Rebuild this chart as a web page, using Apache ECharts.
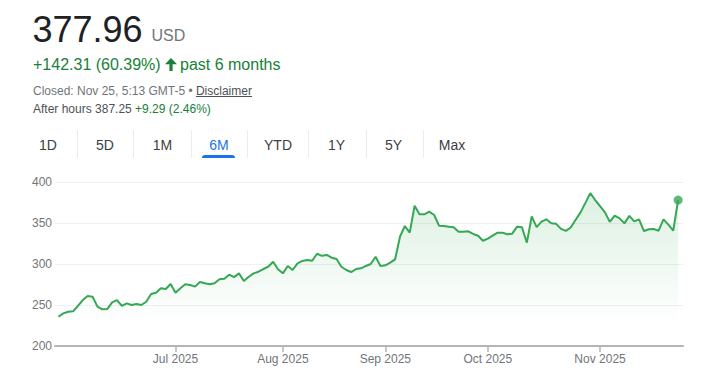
<!DOCTYPE html>
<html>
<head>
<meta charset="utf-8">
<script src="https://cdn.jsdelivr.net/npm/echarts@6/dist/echarts.min.js"></script>
<style>
  html, body { margin: 0; padding: 0; background: #fff; }
  body { width: 724px; height: 376px; position: relative; overflow: hidden;
         font-family: Arial, "Liberation Sans", sans-serif; }
  #chart { position: absolute; left: 0; top: 0; width: 724px; height: 376px; }
  .t { position: absolute; white-space: nowrap; line-height: 1; }
  .tab { position: absolute; top: 137.5px; width: 50px; text-align: center; font-size: 14px;
         line-height: 1; color: #3c4043; }
  .sep { position: absolute; top: 130px; width: 1px; height: 28px; background: #ebebeb; }
</style>
</head>
<body>
<div id="chart"></div>

<div class="t" style="left:32.5px;top:11.5px;font-size:36px;color:#202124;">377.96</div>
<div class="t" style="left:151.5px;top:27.5px;font-size:16px;color:#70757a;">USD</div>

<div class="t" style="left:33px;top:56.5px;font-size:16px;color:#188038;">+142.31 (60.39%)</div>
<svg style="position:absolute;left:165px;top:58px;" width="12" height="13" viewBox="0 0 12 13">
  <polygon fill="#188038" points="6,0 12,6.2 7.6,6.2 7.6,13 4.4,13 4.4,6.2 0,6.2"/>
</svg>
<div class="t" style="left:180px;top:56.5px;font-size:16px;color:#188038;">past 6 months</div>

<div class="t" style="left:33px;top:84.8px;font-size:12px;color:#70757a;">Closed: Nov 25, 5:13 GMT-5 • <span style="color:#4d5156;text-decoration:underline;">Disclaimer</span></div>
<div class="t" style="left:33px;top:102.5px;font-size:12px;color:#4d5156;">After hours 387.25 <span style="color:#188038;">+9.29 (2.46%)</span></div>

<div class="tab" style="left:23px;">1D</div>
<div class="tab" style="left:80px;">5D</div>
<div class="tab" style="left:137.5px;">1M</div>
<div class="tab" style="left:194px;color:#1a73e8;">6M</div>
<div class="tab" style="left:253px;">YTD</div>
<div class="tab" style="left:311.5px;">1Y</div>
<div class="tab" style="left:368.5px;">5Y</div>
<div class="tab" style="left:427px;">Max</div>
<div class="sep" style="left:77px;"></div>
<div class="sep" style="left:133px;"></div>
<div class="sep" style="left:191px;"></div>
<div class="sep" style="left:247px;"></div>
<div class="sep" style="left:308px;"></div>
<div class="sep" style="left:366px;"></div>
<div class="sep" style="left:423px;"></div>
<div style="position:absolute;left:202px;top:155px;width:33px;height:3px;background:#1a73e8;border-radius:3px 3px 0 0;"></div>

<script>
// Trading days (categories)
const dates = [
  "2025-05-27","2025-05-28","2025-05-29","2025-05-30",
  "2025-06-02","2025-06-03","2025-06-04","2025-06-05","2025-06-06","2025-06-09","2025-06-10","2025-06-11","2025-06-12","2025-06-13",
  "2025-06-16","2025-06-17","2025-06-18","2025-06-20","2025-06-23","2025-06-24","2025-06-25","2025-06-26","2025-06-27","2025-06-30",
  "2025-07-01","2025-07-02","2025-07-03","2025-07-07","2025-07-08","2025-07-09","2025-07-10","2025-07-11","2025-07-14","2025-07-15",
  "2025-07-16","2025-07-17","2025-07-18","2025-07-21","2025-07-22","2025-07-23","2025-07-24","2025-07-25","2025-07-28","2025-07-29",
  "2025-07-30","2025-07-31",
  "2025-08-01","2025-08-04","2025-08-05","2025-08-06","2025-08-07","2025-08-08","2025-08-11","2025-08-12","2025-08-13","2025-08-14",
  "2025-08-15","2025-08-18","2025-08-19","2025-08-20","2025-08-21","2025-08-22","2025-08-25","2025-08-26","2025-08-27","2025-08-28",
  "2025-08-29",
  "2025-09-02","2025-09-03","2025-09-04","2025-09-05","2025-09-08","2025-09-09","2025-09-10","2025-09-11","2025-09-12","2025-09-15",
  "2025-09-16","2025-09-17","2025-09-18","2025-09-19","2025-09-22","2025-09-23","2025-09-24","2025-09-25","2025-09-26","2025-09-29",
  "2025-09-30",
  "2025-10-01","2025-10-02","2025-10-03","2025-10-06","2025-10-07","2025-10-08","2025-10-09","2025-10-10","2025-10-13","2025-10-14",
  "2025-10-15","2025-10-16","2025-10-17","2025-10-20","2025-10-21","2025-10-22","2025-10-23","2025-10-24","2025-10-27","2025-10-28",
  "2025-10-29","2025-10-30","2025-10-31",
  "2025-11-03","2025-11-04","2025-11-05","2025-11-06","2025-11-07","2025-11-10","2025-11-11","2025-11-12","2025-11-13","2025-11-14",
  "2025-11-17","2025-11-18","2025-11-19","2025-11-20","2025-11-21","2025-11-24","2025-11-25"
];

// Closing prices (USD)
const prices = [
  235.65, 239.8, 241.8, 242.3, 248.8, 256, 261, 260, 248, 244.7,
  245, 253.3, 256, 248.8, 252, 250, 251.2, 250, 254, 263.4,
  265, 270.4, 269.5, 275.6, 265, 270.4, 275.2, 274.4, 272.4, 278,
  276.5, 275.2, 276.5, 281.3, 282, 287, 284, 288.6, 279.3, 284.5,
  288.6, 290.6, 293.9, 296.7, 302.8, 293.5, 288.6, 297.6, 292.7, 300.8,
  303.7, 304.9, 304, 312.5, 310, 311, 307.7, 306, 296.7, 292.7,
  290.2, 293.9, 294.7, 297.6, 300, 308.9, 297.6, 298.4, 301.6, 305.7,
  333.3, 346.3, 338.2, 371, 360.6, 360.6, 363.8, 359.8, 346.7, 346.3,
  345.5, 344.7, 339.4, 339.4, 339.8, 336.6, 334.5, 328.4, 330.9, 334.5,
  338.2, 338.2, 336.2, 337, 345.5, 344.7, 326, 358, 345, 351.6,
  354.5, 349.8, 349, 342.8, 340.4, 344.5, 354, 363, 374.5, 386.5,
  378, 370.5, 363, 351.5, 358.9, 355.7, 349.6, 358.7, 352, 354.5,
  340.2, 342.3, 342.7, 340.6, 354.5, 348, 340.6, 377.96
];

// Y-axis ticks
const yTicks = [200, 250, 300, 350, 400];
const monthNames = ["Jan","Feb","Mar","Apr","May","Jun","Jul","Aug","Sep","Oct","Nov","Dec"];

// indices of the first trading day in each labelled month (Jul..Nov)
const monthStarts = [];
for (let i = 1; i < dates.length; i++) {
  if (dates[i].slice(5, 7) !== dates[i - 1].slice(5, 7) && dates[i].slice(5,7) !== "06") monthStarts.push(i);
}

const lineData = prices.map((p, i) => [i, p]);
const last = lineData[lineData.length - 1];

const FONT = 'Arial, "Liberation Sans", sans-serif';
const green = '#34a853';

const chart = echarts.init(document.getElementById('chart'), null, { renderer: 'svg' });
chart.setOption({
  animation: false,
  grid: { left: 55, right: 41, top: 182, bottom: 30, containLabel: false },
  xAxis: {
    type: 'value',
    min: -0.7,
    max: 128,
    splitLine: { show: false },
    axisLine: { show: true, lineStyle: { color: '#b5b5b5', width: 2 } },
    axisTick: { show: true, customValues: monthStarts, length: 6, lineStyle: { color: '#b5b5b5', width: 1.5 } },
    axisLabel: {
      customValues: monthStarts,
      color: '#70757a', fontSize: 12, fontFamily: FONT, margin: 7,
      formatter: (v) => {
        const d = dates[Math.round(v)];
        return monthNames[parseInt(d.slice(5, 7), 10) - 1] + ' ' + d.slice(0, 4);
      }
    }
  },
  yAxis: {
    type: 'value',
    min: yTicks[0],
    max: yTicks[yTicks.length - 1],
    interval: 50,
    axisLine: { show: false },
    axisTick: { show: false },
    axisLabel: { color: '#70757a', fontSize: 12, fontFamily: FONT, margin: 3 },
    splitLine: { lineStyle: { color: '#f0f0f0', width: 1 } }
  },
  series: [
    {
      type: 'line',
      data: lineData,
      showSymbol: false,
      lineStyle: { color: green, width: 2 },
      areaStyle: {
        color: new echarts.graphic.LinearGradient(0, 0, 0, 1, [
          { offset: 0, color: 'rgba(52,168,83,0.24)' },
          { offset: 0.85, color: 'rgba(52,168,83,0.0)' },
          { offset: 1, color: 'rgba(52,168,83,0.0)' }
        ])
      },
      z: 3
    },
    {
      type: 'scatter',
      data: [last],
      symbol: 'circle',
      symbolSize: 9,
      itemStyle: { color: green },
      z: 4
    }
  ]
});
</script>
</body>
</html>
